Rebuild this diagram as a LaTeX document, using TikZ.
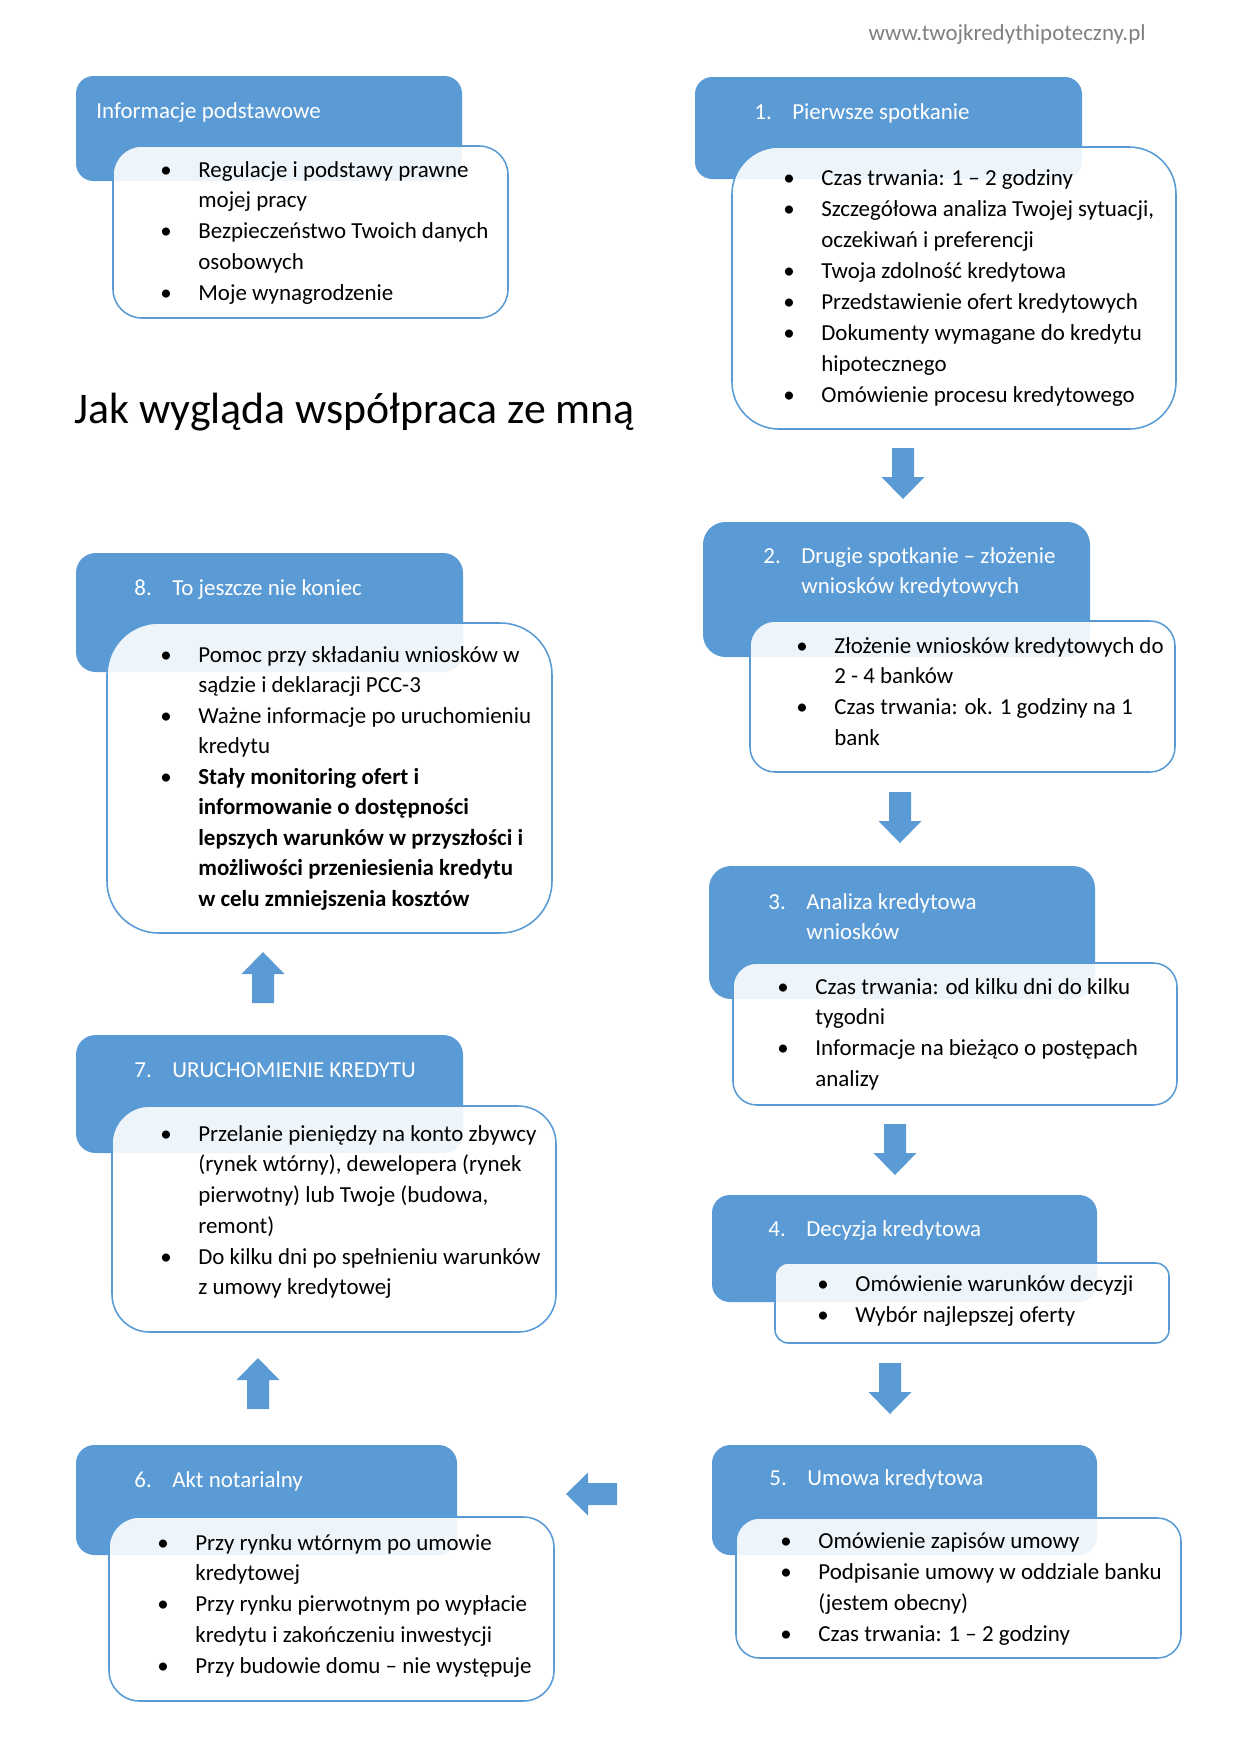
\documentclass[tikz,border=0pt]{standalone}
\usepackage{fontspec}
\setmainfont{Carlito}
\usetikzlibrary{fit}
\definecolor{acc}{HTML}{5B9BD5}
\definecolor{urlgray}{HTML}{7F7F7F}
\newcommand{\bodyfont}{\fontsize{11}{14.63}\selectfont}
\newcommand{\bl}{\hspace*{-2.4pt}\textbullet}
\newenvironment{blist}{\begin{tabular}[t]{@{}p{15.8pt}@{}l@{}}}{\end{tabular}}
\newenvironment{tlist}{\begin{tabular}[t]{@{}p{18.2pt}@{}l@{}}}{\end{tabular}}
\tikzset{
  bluebox/.style={fill=acc, draw=none, inner sep=0pt, rounded corners=#1},
  whitebox/.style={fill=white, fill opacity=0.9, draw=acc, line width=0.75pt, inner sep=0pt, rounded corners=#1},
  ttl/.style={anchor=base west, inner sep=0pt, text=white, font=\bodyfont},
  lst/.style={anchor=base west, inner sep=0pt, text=black, font=\fontsize{11}{#1}\selectfont},
  lst/.default=14.77pt,
  blockarrow/.style={fill=acc, draw=none},
  pics/downarr/.style={code={\fill[blockarrow] (-11,0)--(11,0)--(11,29)--(21.5,29)--(0,51)--(-21.5,29)--(-11,29)--cycle;}},
  pics/uparr/.style={code={\fill[blockarrow] (-11,0)--(11,0)--(11,-29)--(21.5,-29)--(0,-51)--(-21.5,-29)--(-11,-29)--cycle;}},
  pics/leftarr/.style={code={\fill[blockarrow] (0,-11)--(0,11)--(-29,11)--(-29,21.5)--(-51,0)--(-29,-21.5)--(-29,-11)--cycle;}},
}
\begin{document}
\begin{tikzpicture}[x=0.47968pt,y=-0.47968pt]
\useasboundingbox (0,0) rectangle (1241,1755);

% header
\node[anchor=base east, inner sep=0pt, text=urlgray, font=\fontsize{11}{13}\selectfont] (url) at (1146,40) {www.twojkredythipoteczny.pl};
\node[anchor=base west, inner sep=0pt, font=\fontsize{21}{25}\selectfont] (title) at (74,423) {Jak wygląda współpraca ze mną};

% Informacje podstawowe
\node[bluebox=8.4pt, fit={(76,76) (462,181)}] (b0) {};
\node[whitebox=13.8pt, fit={(113,146) (508,318)}] (w0) {};
\node[ttl] (t0) at (96,118) {Informacje podstawowe};
\node[lst] (l0) at (165,177) {\begin{blist}
\bl & Regulacje i podstawy prawne\\
 & mojej pracy\\
\bl & Bezpieczeństwo Twoich danych\\
 & osobowych\\
\bl & Moje wynagrodzenie
\end{blist}};

% 1
\node[bluebox=8.2pt, fit={(695,77) (1082,179)}] (b1) {};
\node[whitebox=22.5pt, fit={(732,147) (1176,429)}] (w1) {};
\node[ttl] (t1) at (754,119) {\begin{tlist}1. & Pierwsze spotkanie\end{tlist}};
\node[lst=14.9pt] (l1) at (788,185) {\begin{blist}
\bl & Czas trwania: 1 – 2 godziny\\
\bl & Szczegółowa analiza Twojej sytuacji,\\
 & oczekiwań i preferencji\\
\bl & Twoja zdolność kredytowa\\
\bl & Przedstawienie ofert kredytowych\\
\bl & Dokumenty wymagane do kredytu\\
 & hipotecznego\\
\bl & Omówienie procesu kredytowego
\end{blist}};

% 2
\node[bluebox=10.8pt, fit={(703,522) (1090,657)}] (b2) {};
\node[whitebox=12pt, fit={(750,621) (1175,772)}] (w2) {};
\node[ttl] (t2) at (763,563) {\begin{tlist}2. & Drugie spotkanie – złożenie\\ & wniosków kredytowych\end{tlist}};
\node[lst] (l2) at (801,653) {\begin{blist}
\bl & Złożenie wniosków kredytowych do\\
 & 2 - 4 banków\\
\bl & Czas trwania: ok. 1 godziny na 1\\
 & bank
\end{blist}};

% 3
\node[bluebox=10.6pt, fit={(709,866) (1095,999)}] (b3) {};
\node[whitebox=11.4pt, fit={(733,963) (1177,1105)}] (w3) {};
\node[ttl] (t3) at (768,909) {\begin{tlist}3. & Analiza kredytowa\\ & wniosków\end{tlist}};
\node[lst] (l3) at (782,994) {\begin{blist}
\bl & Czas trwania: od kilku dni do kilku\\
 & tygodni\\
\bl & Informacje na bieżąco o postępach\\
 & analizy
\end{blist}};

% 4
\node[bluebox=8.5pt, fit={(712,1195) (1097,1302)}] (b4) {};
\node[whitebox=6.4pt, fit={(775,1263) (1169,1343)}] (w4) {};
\node[ttl] (t4) at (768,1236) {\begin{tlist}4. & Decyzja kredytowa\end{tlist}};
\node[lst=15.3pt] (l4) at (822,1291) {\begin{blist}
\bl & Omówienie warunków decyzji\\
\bl & Wybór najlepszej oferty
\end{blist}};

% 5
\node[bluebox=8.8pt, fit={(712,1445) (1097,1555)}] (b5) {};
\node[whitebox=11.2pt, fit={(736,1518) (1181,1658)}] (w5) {};
\node[ttl] (t5) at (769,1485) {\begin{tlist}5. & Umowa kredytowa\end{tlist}};
\node[lst=15pt] (l5) at (785,1548) {\begin{blist}
\bl & Omówienie zapisów umowy\\
\bl & Podpisanie umowy w oddziale banku\\
 & (jestem obecny)\\
\bl & Czas trwania: 1 – 2 godziny
\end{blist}};

% 6
\node[bluebox=8.8pt, fit={(76,1445) (457,1555)}] (b6) {};
\node[whitebox=14.7pt, fit={(109,1517) (554,1701)}] (w6) {};
\node[ttl] (t6) at (134,1487) {\begin{tlist}6. & Akt notarialny\end{tlist}};
\node[lst] (l6) at (162,1550) {\begin{blist}
\bl & Przy rynku wtórnym po umowie\\
 & kredytowej\\
\bl & Przy rynku pierwotnym po wypłacie\\
 & kredytu i zakończeniu inwestycji\\
\bl & Przy budowie domu – nie występuje
\end{blist}};

% 7
\node[bluebox=9.4pt, fit={(76,1035) (463,1153)}] (b7) {};
\node[whitebox=18.1pt, fit={(112,1106) (556,1332)}] (w7) {};
\node[ttl] (t7) at (134,1077) {\begin{tlist}7. & URUCHOMIENIE KREDYTU\end{tlist}};
\node[lst] (l7) at (165,1141) {\begin{blist}
\bl & Przelanie pieniędzy na konto zbywcy\\
 & (rynek wtórny), dewelopera (rynek\\
 & pierwotny) lub Twoje (budowa,\\
 & remont)\\
\bl & Do kilku dni po spełnieniu warunków\\
 & z umowy kredytowej
\end{blist}};

% 8
\node[bluebox=9.5pt, fit={(76,553) (463,672)}] (b8) {};
\node[whitebox=24.8pt, fit={(107,623) (552,933)}] (w8) {};
\node[ttl] (t8) at (134,595) {\begin{tlist}8. & To jeszcze nie koniec\end{tlist}};
\node[lst=14.63pt] (l8) at (165,662) {\begin{blist}
\bl & Pomoc przy składaniu wniosków w\\
 & sądzie i deklaracji PCC-3\\
\bl & Ważne informacje po uruchomieniu\\
 & kredytu\\
\bl & \textbf{Stały monitoring ofert i}\\
 & \textbf{informowanie o dostępności}\\
 & \textbf{lepszych warunków w przyszłości i}\\
 & \textbf{możliwości przeniesienia kredytu}\\
 & \textbf{w celu zmniejszenia kosztów}
\end{blist}};

% arrows
\pic (a12) at (903,448) {downarr};
\pic (a23) at (900,792) {downarr};
\pic (a34) at (895,1124) {downarr};
\pic (a45) at (890,1363) {downarr};
\pic (a56) at (617,1494) {leftarr};
\pic (a67) at (258,1409) {uparr};
\pic (a78) at (263,1003) {uparr};
\end{tikzpicture}
\end{document}
